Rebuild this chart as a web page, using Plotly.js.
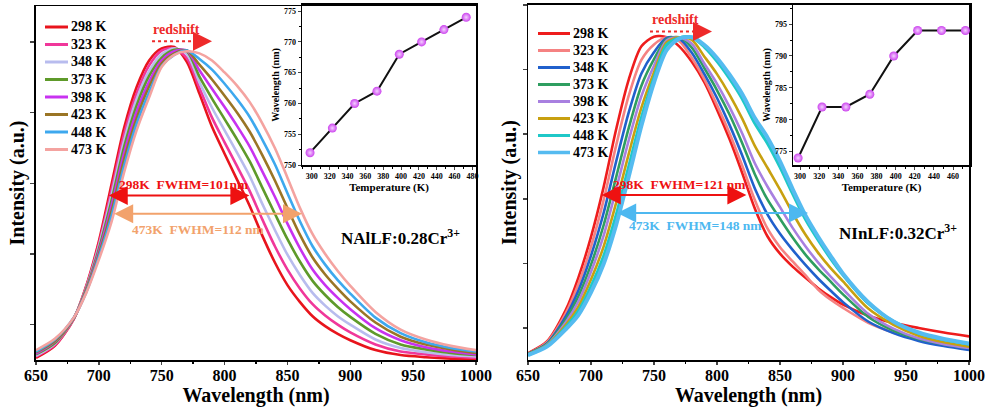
<!DOCTYPE html>
<html>
<head>
<meta charset="utf-8">
<script src="https://cdn.plot.ly/plotly-3.0.1.min.js"></script>
<style>html,body{margin:0;padding:0;background:#fff;}#chart{width:986px;height:412px;}</style>
</head>
<body>
<div id="chart"></div>
<script>
// ---------- data ----------
const labels = ['298 K','323 K','348 K','373 K','398 K','423 K','448 K','473 K'];
const wavelength = [650,665,680,690,700,710,720,730,740,750,760,770,780,790,800,810,820,830,840,850,860,870,880,890,900,920,940,960,980,1000];

// left panel: NAlLF:0.28Cr3+
const L298 = [0.53,0.70,1.08,1.55,2.18,2.98,3.78,4.36,4.74,4.91,4.93,4.72,4.27,3.80,3.42,3.05,2.68,2.26,1.88,1.56,1.32,1.12,0.98,0.87,0.78,0.64,0.57,0.54,0.52,0.51];
const L323 = [0.55,0.71,1.08,1.54,2.14,2.90,3.69,4.27,4.67,4.88,4.91,4.77,4.35,3.93,3.58,3.24,2.89,2.49,2.11,1.78,1.51,1.29,1.13,1.00,0.89,0.72,0.62,0.58,0.55,0.53];
const L348 = [0.56,0.73,1.09,1.52,2.11,2.83,3.60,4.19,4.59,4.83,4.91,4.83,4.43,4.07,3.75,3.43,3.10,2.71,2.34,1.99,1.70,1.45,1.27,1.12,1.00,0.79,0.67,0.61,0.57,0.55];
const L373 = [0.58,0.74,1.09,1.51,2.07,2.75,3.51,4.10,4.52,4.78,4.89,4.87,4.51,4.20,3.91,3.62,3.31,2.94,2.57,2.21,1.89,1.62,1.42,1.25,1.11,0.87,0.72,0.65,0.60,0.57];
const L398 = [0.59,0.76,1.09,1.49,2.03,2.68,3.42,4.01,4.44,4.74,4.87,4.88,4.60,4.34,4.08,3.81,3.52,3.17,2.81,2.43,2.08,1.78,1.56,1.38,1.22,0.95,0.78,0.68,0.62,0.58];
const L423 = [0.61,0.77,1.09,1.48,1.99,2.60,3.33,3.92,4.37,4.70,4.84,4.88,4.68,4.47,4.24,4.00,3.73,3.40,3.04,2.65,2.27,1.95,1.71,1.51,1.33,1.03,0.83,0.72,0.65,0.60];
const L448 = [0.62,0.79,1.10,1.46,1.96,2.53,3.24,3.84,4.29,4.66,4.82,4.88,4.76,4.61,4.41,4.19,3.94,3.62,3.27,2.86,2.46,2.11,1.85,1.63,1.44,1.10,0.88,0.75,0.67,0.62];
const L473 = [0.64,0.80,1.10,1.45,1.92,2.45,3.15,3.75,4.22,4.65,4.82,4.87,4.84,4.74,4.57,4.38,4.15,3.85,3.50,3.08,2.65,2.28,2.00,1.76,1.55,1.18,0.93,0.79,0.70,0.64];

// right panel: NInLF:0.32Cr3+
const R298 = [0.61,0.79,1.28,1.78,2.41,3.18,4.08,4.85,5.36,5.51,5.50,5.36,5.12,4.80,4.38,3.92,3.40,2.85,2.42,2.15,1.95,1.78,1.62,1.48,1.36,1.19,1.08,1.00,0.93,0.87];
const R323 = [0.60,0.78,1.23,1.68,2.26,2.98,3.83,4.60,5.15,5.39,5.50,5.44,5.18,4.85,4.45,4.01,3.51,2.98,2.54,2.25,2.03,1.82,1.60,1.44,1.31,1.08,0.93,0.82,0.75,0.70];
const R348 = [0.60,0.76,1.18,1.58,2.12,2.78,3.58,4.34,4.94,5.27,5.49,5.48,5.26,4.93,4.56,4.14,3.67,3.16,2.76,2.46,2.21,1.98,1.77,1.58,1.40,1.10,0.92,0.80,0.72,0.66];
const R373 = [0.60,0.75,1.13,1.49,1.98,2.59,3.34,4.10,4.75,5.16,5.47,5.50,5.34,5.02,4.68,4.30,3.86,3.38,2.99,2.69,2.40,2.14,1.92,1.72,1.52,1.17,0.96,0.83,0.75,0.69];
const R398 = [0.59,0.74,1.09,1.41,1.87,2.43,3.15,3.91,4.59,5.06,5.45,5.50,5.40,5.09,4.78,4.42,4.01,3.55,3.19,2.87,2.55,2.27,2.02,1.80,1.60,1.22,0.99,0.84,0.75,0.69];
const R423 = [0.59,0.73,1.05,1.33,1.75,2.26,2.94,3.70,4.41,4.96,5.42,5.50,5.46,5.20,4.93,4.61,4.24,3.82,3.48,3.14,2.78,2.45,2.17,1.93,1.72,1.30,1.05,0.88,0.78,0.71];
const R448 = [0.58,0.72,1.01,1.26,1.64,2.11,2.75,3.50,4.25,4.87,5.38,5.49,5.50,5.35,5.13,4.86,4.55,4.17,3.86,3.49,3.08,2.69,2.37,2.08,1.82,1.38,1.10,0.92,0.82,0.75];
const R473 = [0.58,0.71,0.98,1.20,1.55,1.99,2.60,3.35,4.13,4.80,5.30,5.48,5.50,5.38,5.18,4.92,4.62,4.25,3.95,3.58,3.15,2.75,2.42,2.12,1.84,1.40,1.10,0.93,0.83,0.76];

// insets: peak wavelength vs temperature
const temperature = [298,323,348,373,398,423,448,473];
const peakLeft  = [752,756,760,762,768,770,772,774];
const peakRight = [774,782,782,784,790,794,794,794];

// ---------- styles ----------
const colorsL = ['#e8141c','#f0379a','#b8bcee','#5e9a2a','#c832f0','#9a7525','#3da8ee','#f4a3a0'];
const colorsR = ['#ee1c1c','#f58282','#2060cc','#2e9e60','#a880e0','#c8a010','#1fc8c8','#55bbf0'];
const widthsR = [2.6,2.6,2.6,2.6,2.6,2.6,3.2,4];
const seriesL = [L298,L323,L348,L373,L398,L423,L448,L473];
const seriesR = [R298,R323,R348,R373,R398,R423,R448,R473];

const FONT = 'Liberation Serif, Times New Roman, serif';
const W = 986, H = 412;
const traces = [];
seriesL.forEach((s,i)=>traces.push({x:wavelength,y:s,type:'scatter',mode:'lines',name:labels[i],showlegend:false,
  line:{color:colorsL[i],width:2.6,shape:'spline',smoothing:0.8},xaxis:'x',yaxis:'y'}));
seriesR.forEach((s,i)=>traces.push({x:wavelength,y:s,type:'scatter',mode:'lines',name:labels[i],showlegend:false,
  line:{color:colorsR[i],width:widthsR[i],shape:'spline',smoothing:0.8},xaxis:'x2',yaxis:'y2'}));
[[peakLeft,'x3','y3'],[peakRight,'x4','y4']].forEach(([p,xa,ya])=>traces.push({x:temperature,y:p,type:'scatter',mode:'lines+markers',
  showlegend:false,xaxis:xa,yaxis:ya,line:{color:'#111',width:2},
  marker:{size:9,color:'#cc44ee',gradient:{type:'radial',color:'#f4d0ff'},line:{width:0}},cliponaxis:false}));

function mainX(domain, anchor){
  return {domain:domain,anchor:anchor,range:[650,1000],dtick:50,tick0:0,ticks:'outside',ticklen:3,tickwidth:1.5,
    ticklabelstandoff:-3,
    showline:true,linewidth:1.5,linecolor:'#000',mirror:true,showgrid:false,zeroline:false,
    tickfont:{family:FONT,size:16,color:'#000',weight:'bold'},
    minor:{dtick:25,ticklen:2,ticks:'outside',tickcolor:'#000',showgrid:false},
    title:{text:'Wavelength (nm)',font:{family:FONT,size:20,color:'#000',weight:'bold'},standoff:2}};
}
function mainY(domain, anchor, range){
  return {domain:domain,anchor:anchor,range:range,dtick:1,tick0:0,ticks:'outside',ticklen:4,tickwidth:1.5,
    showticklabels:false,showline:true,linewidth:1.5,linecolor:'#000',mirror:true,showgrid:false,zeroline:false,
    title:{text:'Intensity (a.u.)',font:{family:FONT,size:20,color:'#000',weight:'bold'},standoff:0}};
}
function insetX(domain, anchor, range){
  return {domain:domain,anchor:anchor,range:range,dtick:20,tick0:0,ticks:'outside',ticklen:3,tickwidth:1,
    showline:true,linewidth:1.5,linecolor:'#000',mirror:true,showgrid:false,zeroline:false,
    tickfont:{family:FONT,size:8,color:'#000',weight:'bold'},
    minor:{dtick:10,ticklen:2,ticks:'outside',tickcolor:'#000',showgrid:false},
    title:{text:'Temperature (K)',font:{family:FONT,size:11,color:'#000',weight:'bold'},standoff:1}};
}
function insetY(domain, anchor, range){
  return {domain:domain,anchor:anchor,range:range,dtick:5,tick0:0,ticks:'outside',ticklen:3,tickwidth:1,
    showline:true,linewidth:1.5,linecolor:'#000',mirror:true,showgrid:false,zeroline:false,
    tickfont:{family:FONT,size:8,color:'#000',weight:'bold'},
    minor:{dtick:2.5,ticklen:2,ticks:'outside',tickcolor:'#000',showgrid:false},
    title:{text:'Wavelength (nm)',font:{family:FONT,size:10,color:'#000',weight:'bold'},standoff:2}};
}

function arrow(x0,x1,y,color,xr,yr,side){
  return {x:x1,y:y,ax:x0,ay:y,xref:xr,yref:yr,axref:xr,ayref:yr,text:'',showarrow:true,
    arrowhead:2,arrowsize:1.9,arrowwidth:2,arrowcolor:color,arrowside:side||'end+start',standoff:0,startstandoff:0};
}
function label(text,x,y,color,size,xr,yr){
  return {x:x,y:y,xref:xr,yref:yr,text:text,showarrow:false,font:{family:FONT,size:size,color:color,weight:'bold'}};
}

// manual legends (paper coordinates from pixel positions)
const shapes = [
  {type:'line',xref:'x',yref:'y',x0:742.3,x1:780,y0:5.01,y1:5.01,line:{color:'#ee2a2a',width:2,dash:'dot'}},
  {type:'line',xref:'x2',yref:'y2',x0:746.8,x1:786,y0:5.59,y1:5.59,line:{color:'#ee2a2a',width:2,dash:'dot'}}
];
const annotations = [];
function addLegend(colors, widths, x0, x1, ytop, step){
  labels.forEach((t,i)=>{
    const py = ytop + i*step;
    shapes.push({type:'line',xref:'paper',yref:'paper',x0:x0/W,x1:x1/W,y0:1-py/H,y1:1-py/H,
      line:{color:colors[i],width:widths[i]}});
    annotations.push({xref:'paper',yref:'paper',x:(x1+1)/W,y:1-py/H,xanchor:'left',yanchor:'middle',
      text:t,showarrow:false,font:{family:FONT,size:14,color:'#000',weight:'bold'}});
  });
}
addLegend(colorsL,[3,3,3,3,3,3,3,3],45,68,27,17.5);
addLegend(colorsR,[3,3,3,3,3,3,3,3.5],538,570,33.5,17);

annotations.push(
  label('redshift',761.4,5.18,'#ee2a2a',14,'x','y'),
  arrow(778,790,5.01,'#ee2a2a','x','y','end'),
  arrow(706.7,819.7,2.83,'#ee1111','x','y'),
  label('298K  FWHM=101nm',768,2.99,'#ee1111',13.5,'x','y'),
  arrow(711,861.6,2.57,'#f2a26c','x','y'),
  label('473K  FWHM=112 nm',779,2.35,'#f2a26c',13.5,'x','y'),
  label('NAlLF:0.28Cr<sup>3+</sup>',940,2.24,'#000',17,'x','y'),

  label('redshift',766.7,5.78,'#ee2a2a',14,'x2','y2'),
  arrow(784,796,5.59,'#ee2a2a','x2','y2','end'),
  arrow(707.4,823.3,3.06,'#ee1111','x2','y2'),
  label('298K  FWHM=121 nm',770.4,3.22,'#ee1111',13.5,'x2','y2'),
  arrow(719.6,872.2,2.78,'#4db8f0','x2','y2'),
  label('473K  FWHM=148 nm',783.3,2.58,'#4db8f0',13.5,'x2','y2'),
  label('NInLF:0.32Cr<sup>3+</sup>',943.5,2.49,'#000',17,'x2','y2')
);

const layout = {
  width:W,height:H,margin:{l:0,r:0,t:0,b:0},paper_bgcolor:'#fff',plot_bgcolor:'rgba(0,0,0,0)',
  showlegend:false,
  xaxis:mainX([0.0365,0.4828],'y'),
  yaxis:mainY([0.1262,0.9854],'x',[0.5,5.51]),
  xaxis2:mainX([0.5355,0.9828],'y2'),
  yaxis2:mainY([0.1262,0.9879],'x2',[0.504,6.0]),
  xaxis3:insetX([0.3063,0.4828],'y3',[289,484]),
  yaxis3:insetY([0.5995,0.9879],'x3',[750,776]),
  xaxis4:insetX([0.8043,0.9838],'y4',[292.7,477.8]),
  yaxis4:insetY([0.5995,0.9879],'x4',[772.9,798]),
  shapes:shapes,
  annotations:annotations
};

Plotly.newPlot('chart',traces,layout,{displayModeBar:false,staticPlot:true});
</script>
</body>
</html>
